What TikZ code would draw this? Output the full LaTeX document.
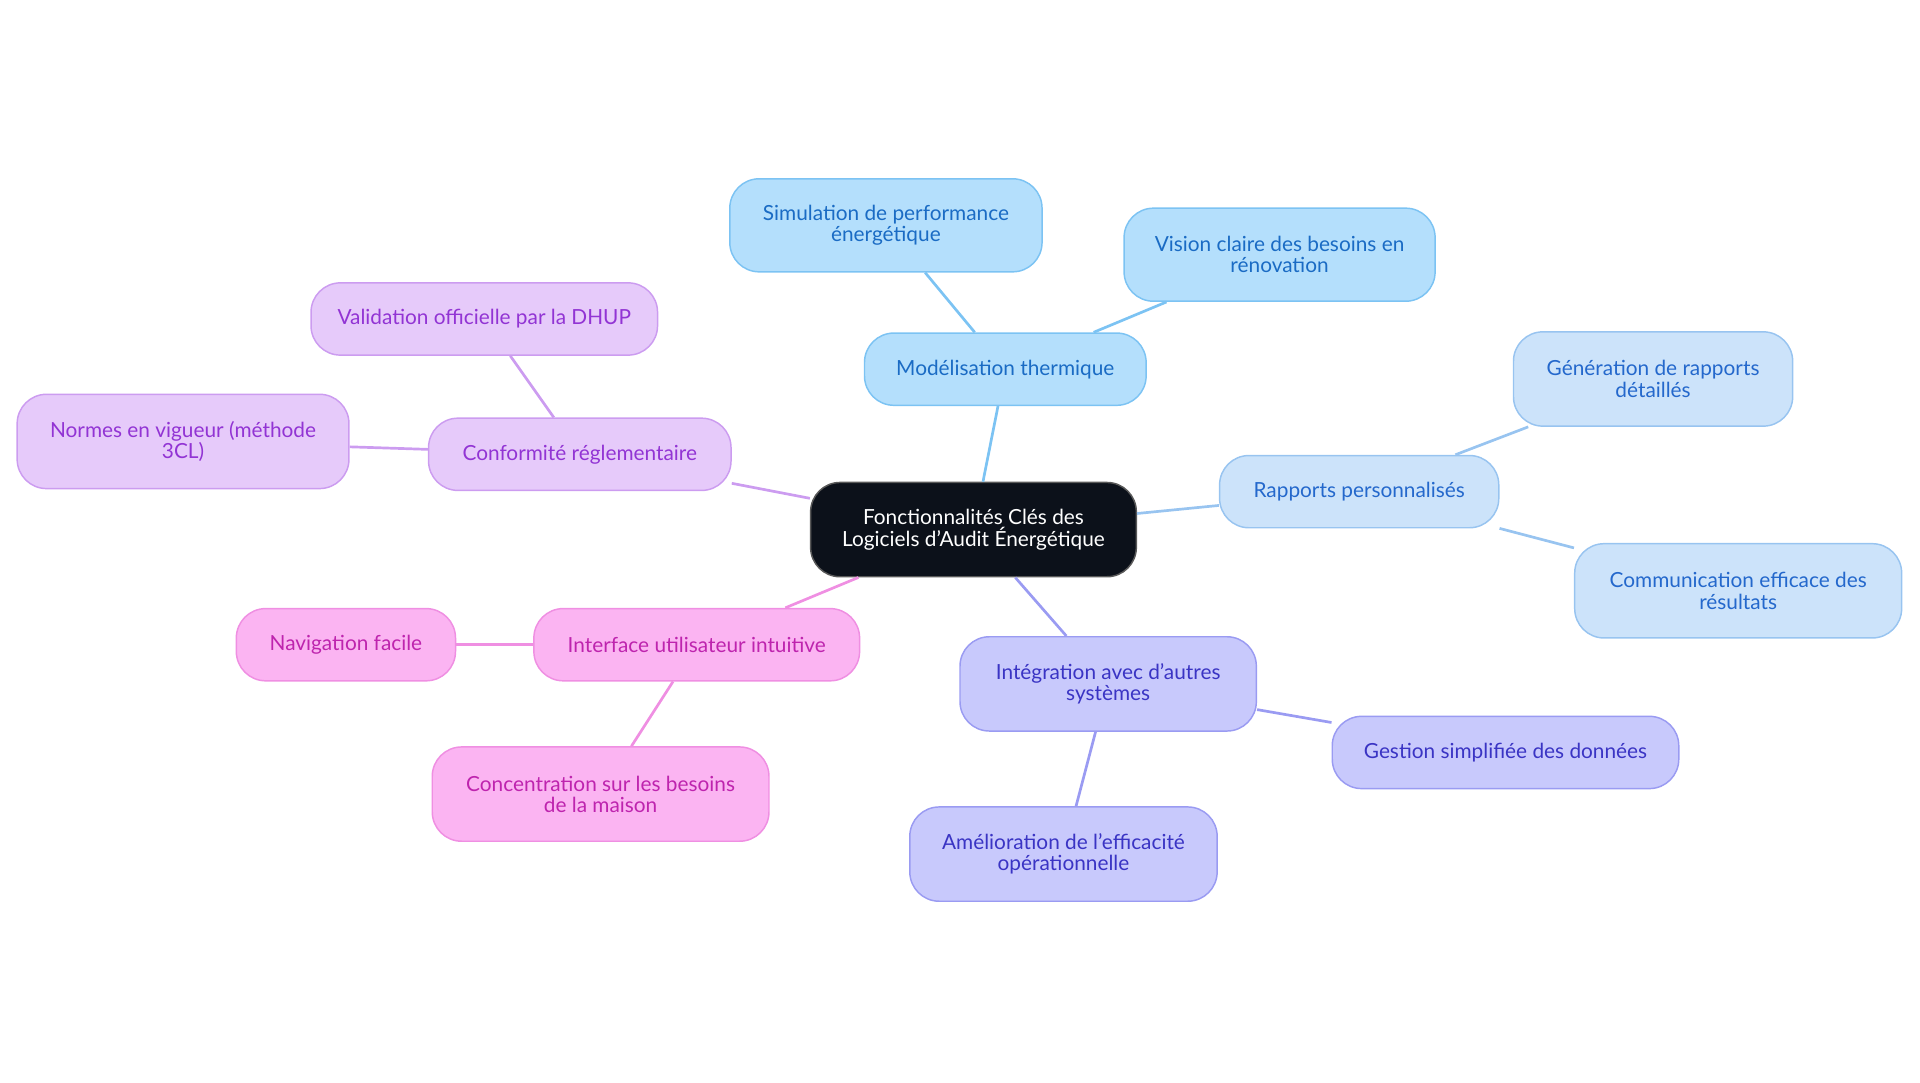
\documentclass[tikz,border=0pt]{standalone}
\usepackage{fontspec}
\setmainfont{Lato}
\usetikzlibrary{positioning,calc}

\definecolor{rootfill}{HTML}{0C111A}
\definecolor{skyfill}{HTML}{B4DFFC}
\definecolor{skydraw}{HTML}{7CC3F3}
\definecolor{skytext}{HTML}{1A6BC4}
\definecolor{palefill}{HTML}{CCE3FA}
\definecolor{paledraw}{HTML}{98C4F0}
\definecolor{paletext}{HTML}{2468CC}
\definecolor{perifill}{HTML}{C8C9FC}
\definecolor{peridraw}{HTML}{9A9BF2}
\definecolor{peritext}{HTML}{3A34C4}
\definecolor{pinkfill}{HTML}{FBB4F2}
\definecolor{pinkdraw}{HTML}{EF8FE2}
\definecolor{pinktext}{HTML}{BE24AE}
\definecolor{lilacfill}{HTML}{E6CAFA}
\definecolor{lilacdraw}{HTML}{CC9CF0}
\definecolor{lilactext}{HTML}{9234D4}

\tikzset{
  idea/.style={rectangle,rounded corners=12pt,line width=0.6pt,align=center,
    font=\fontsize{8.5}{8.7}\selectfont,inner sep=2pt},
  rootidea/.style={idea,fill=rootfill,draw=gray!70!black,text=white},
  skyidea/.style={idea,fill=skyfill,draw=skydraw,text=skytext},
  paleidea/.style={idea,fill=palefill,draw=paledraw,text=paletext},
  periidea/.style={idea,fill=perifill,draw=peridraw,text=peritext},
  pinkidea/.style={idea,fill=pinkfill,draw=pinkdraw,text=pinktext},
  lilacidea/.style={idea,fill=lilacfill,draw=lilacdraw,text=lilactext},
  link/.style={line width=1.1pt}
}

\begin{document}
\begin{tikzpicture}[x=0.5pt,y=-0.5pt]
        \useasboundingbox (0,0) rectangle (1568,884);

        \node[rootidea,minimum width=133pt,minimum height=38.5pt] (root) at (795,432.5) {Fonctionnalités Clés des\\Logiciels d'Audit Énergétique};

        \node[skyidea,minimum width=115pt,minimum height=29.5pt] (thermique) at (821,301.5) {Modélisation thermique};
        \node[skyidea,minimum width=127.5pt,minimum height=38pt] (thermique-simulation) at (723.5,184) {Simulation de performance\\énergétique};
        \node[skyidea,minimum width=127pt,minimum height=38pt] (thermique-vision) at (1045,208) {Vision claire des besoins en\\rénovation};

        \node[paleidea,minimum width=114pt,minimum height=29.5pt] (rapports) at (1110,401.5) {Rapports personnalisés};
        \node[paleidea,minimum width=114pt,minimum height=38.5pt] (rapports-generation) at (1350,309.5) {Génération de rapports\\détaillés};
        \node[paleidea,minimum width=133.5pt,minimum height=38.5pt] (rapports-communication) at (1419.5,482.5) {Communication efficace des\\résultats};

        \node[periidea,minimum width=121pt,minimum height=38.5pt] (integration) at (905,558.5) {Intégration avec d'autres\\systèmes};
        \node[periidea,minimum width=141.5pt,minimum height=29.5pt] (integration-gestion) at (1229.5,614.5) {Gestion simplifiée des données};
        \node[periidea,minimum width=125.5pt,minimum height=38.5pt] (integration-amelioration) at (868.5,697.5) {Amélioration de l'efficacité\\opérationnelle};

        \node[pinkidea,minimum width=133pt,minimum height=29.5pt] (interface) at (569,526.5) {Interface utilisateur intuitive};
        \node[pinkidea,minimum width=89.5pt,minimum height=29.5pt] (interface-navigation) at (282.5,526.5) {Navigation facile};
        \node[pinkidea,minimum width=137.5pt,minimum height=38.5pt] (interface-concentration) at (490.5,648.5) {Concentration sur les besoins\\de la maison};

        \node[lilacidea,minimum width=123.5pt,minimum height=29.5pt] (conformite) at (473.5,371) {Conformité réglementaire};
        \node[lilacidea,minimum width=141.5pt,minimum height=29.5pt] (conformite-validation) at (395.5,260.5) {Validation officielle par la DHUP};
        \node[lilacidea,minimum width=135.5pt,minimum height=38.5pt] (conformite-normes) at (149.5,360.5) {Normes en vigueur (méthode\\3CL)};

        \draw[link,skydraw] (root) -- (thermique);
        \draw[link,skydraw] (thermique) -- (thermique-simulation);
        \draw[link,skydraw] (thermique) -- (thermique-vision);
        \draw[link,paledraw] (root) -- (rapports);
        \draw[link,paledraw] (rapports) -- (rapports-generation);
        \draw[link,paledraw] (rapports) -- (rapports-communication);
        \draw[link,peridraw] (root) -- (integration);
        \draw[link,peridraw] (integration) -- (integration-gestion);
        \draw[link,peridraw] (integration) -- (integration-amelioration);
        \draw[link,pinkdraw] (root) -- (interface);
        \draw[link,pinkdraw] (interface) -- (interface-navigation);
        \draw[link,pinkdraw] (interface) -- (interface-concentration);
        \draw[link,lilacdraw] (root) -- (conformite);
        \draw[link,lilacdraw] (conformite) -- (conformite-validation);
        \draw[link,lilacdraw] (conformite) -- (conformite-normes);
    \end{tikzpicture}
\end{document}
